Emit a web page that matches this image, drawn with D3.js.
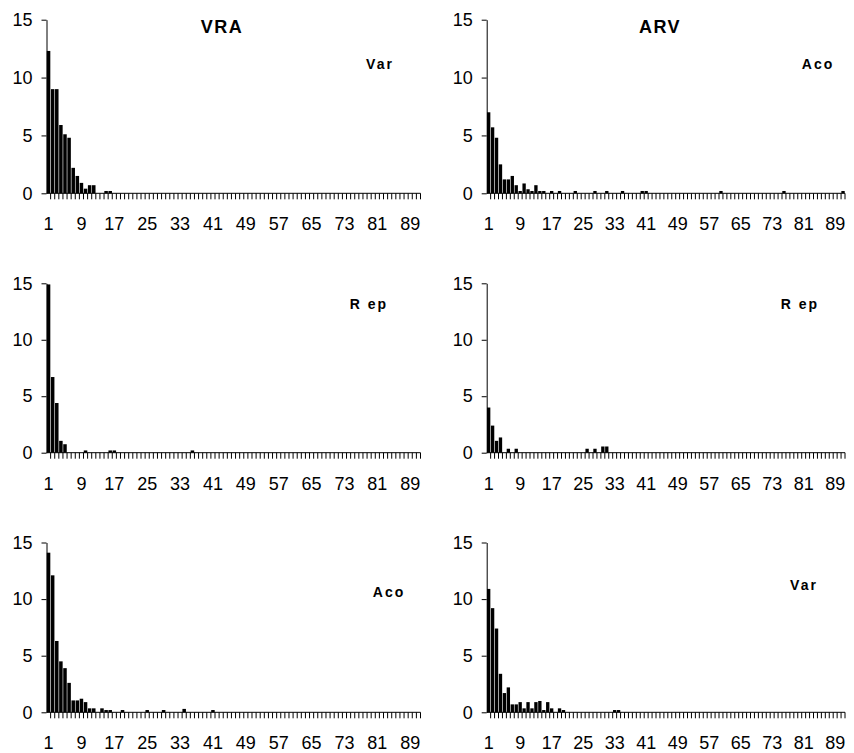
<!DOCTYPE html>
<html>
<head>
<meta charset="utf-8">
<script src="https://cdn.jsdelivr.net/npm/d3@7/dist/d3.min.js"></script>
<style>
  html, body { margin: 0; padding: 0; background: #fff; }
  svg { display: block; }
  text { font-family: "Liberation Sans", Arial, sans-serif; fill: #000; }
</style>
</head>
<body>
<script>
// Categories 1..91 along the x axis
const categories = [
   1, 2, 3, 4, 5, 6, 7, 8, 9,10,11,12,13,14,15,16,17,18,19,20,
  21,22,23,24,25,26,27,28,29,30,31,32,33,34,35,36,37,38,39,40,
  41,42,43,44,45,46,47,48,49,50,51,52,53,54,55,56,57,58,59,60,
  61,62,63,64,65,66,67,68,69,70,71,72,73,74,75,76,77,78,79,80,
  81,82,83,84,85,86,87,88,89,90,91
];
const xTickLabels = [1, 9, 17, 25, 33, 41, 49, 57, 65, 73, 81, 89];
const yTickValues = [0, 5, 10, 15];
const columnTitles = ["VRA", "ARV"];

// Frequencies per category
const vraVar = [
  12.3, 9.0, 9.0, 5.9, 5.1, 4.8, 2.2, 1.5, 0.9, 0.4,
  0.7, 0.7, 0, 0, 0.2, 0.2, 0, 0, 0, 0,
  0, 0, 0, 0, 0, 0, 0, 0, 0, 0,
  0, 0, 0, 0, 0, 0, 0, 0, 0, 0,
  0, 0, 0, 0, 0, 0, 0, 0, 0, 0,
  0, 0, 0, 0, 0, 0, 0, 0, 0, 0,
  0, 0, 0, 0, 0, 0, 0, 0, 0, 0,
  0, 0, 0, 0, 0, 0, 0, 0, 0, 0,
  0, 0, 0, 0, 0, 0, 0, 0, 0, 0,
  0
];
const arvAco = [
  7.0, 5.7, 4.8, 2.5, 1.2, 1.2, 1.5, 0.7, 0.2, 0.85,
  0.35, 0.2, 0.7, 0.2, 0.2, 0, 0.2, 0, 0.2, 0,
  0, 0, 0.2, 0, 0, 0, 0, 0.2, 0, 0,
  0.2, 0, 0, 0, 0.2, 0, 0, 0, 0, 0.2,
  0.2, 0, 0, 0, 0, 0, 0, 0, 0, 0,
  0, 0, 0, 0, 0, 0, 0, 0, 0, 0.2,
  0, 0, 0, 0, 0, 0, 0, 0, 0, 0,
  0, 0, 0, 0, 0, 0.2, 0, 0, 0, 0,
  0, 0, 0, 0, 0, 0, 0, 0, 0, 0,
  0.2
];
const vraRep = [
  14.9, 6.7, 4.4, 1.05, 0.75, 0, 0, 0, 0, 0.2,
  0, 0, 0, 0, 0, 0.2, 0.2, 0, 0, 0,
  0, 0, 0, 0, 0, 0, 0, 0, 0, 0,
  0, 0, 0, 0, 0, 0.2, 0, 0, 0, 0,
  0, 0, 0, 0, 0, 0, 0, 0, 0, 0,
  0, 0, 0, 0, 0, 0, 0, 0, 0, 0,
  0, 0, 0, 0, 0, 0, 0, 0, 0, 0,
  0, 0, 0, 0, 0, 0, 0, 0, 0, 0,
  0, 0, 0, 0, 0, 0, 0, 0, 0, 0,
  0
];
const arvRep = [
  4.0, 2.4, 1.05, 1.35, 0, 0.35, 0, 0.35, 0, 0,
  0, 0, 0, 0, 0, 0, 0, 0, 0, 0,
  0, 0, 0, 0, 0, 0.35, 0, 0.35, 0, 0.55,
  0.55, 0, 0, 0, 0, 0, 0, 0, 0, 0,
  0, 0, 0, 0, 0, 0, 0, 0, 0, 0,
  0, 0, 0, 0, 0, 0, 0, 0, 0, 0,
  0, 0, 0, 0, 0, 0, 0, 0, 0, 0,
  0, 0, 0, 0, 0, 0, 0, 0, 0, 0,
  0, 0, 0, 0, 0, 0, 0, 0, 0, 0,
  0
];
const vraAco = [
  14.1, 12.1, 6.3, 4.5, 3.9, 2.6, 1.05, 1.05, 1.2, 0.9,
  0.35, 0.35, 0, 0.35, 0.2, 0.2, 0, 0, 0.2, 0,
  0, 0, 0, 0, 0.2, 0, 0, 0, 0.2, 0,
  0, 0, 0, 0.3, 0, 0, 0, 0, 0, 0,
  0.2, 0, 0, 0, 0, 0, 0, 0, 0, 0,
  0, 0, 0, 0, 0, 0, 0, 0, 0, 0,
  0, 0, 0, 0, 0, 0, 0, 0, 0, 0,
  0, 0, 0, 0, 0, 0, 0, 0, 0, 0,
  0, 0, 0, 0, 0, 0, 0, 0, 0, 0,
  0
];
const arvVar = [
  10.9, 9.2, 7.4, 3.4, 1.7, 2.2, 0.7, 0.7, 0.9, 0.35,
  0.9, 0.35, 0.9, 1.0, 0.2, 0.9, 0.35, 0, 0.35, 0.2,
  0, 0, 0, 0, 0, 0, 0, 0, 0, 0,
  0, 0, 0.2, 0.2, 0, 0, 0, 0, 0, 0,
  0, 0, 0, 0, 0, 0, 0, 0, 0, 0,
  0, 0, 0, 0, 0, 0, 0, 0, 0, 0,
  0, 0, 0, 0, 0, 0, 0, 0, 0, 0,
  0, 0, 0, 0, 0, 0, 0, 0, 0, 0,
  0, 0, 0, 0, 0, 0, 0, 0, 0, 0,
  0
];

const W = 854, H = 753;
const svg = d3.select("body").append("svg")
  .attr("width", W).attr("height", H);

// Plot frames: two columns, three rows
const cols = [
  { x0: 46.5, x1: 420.5 },
  { x0: 486.7, x1: 845 }
];
const rows = [
  { top: 19.7, bottom: 193.3 },
  { top: 283.3, bottom: 452.7 },
  { top: 542.5, bottom: 712.3 }
];

const panels = [
  { col: 0, row: 0, values: vraVar, label: "Var", lx: 380, ly: 69 },
  { col: 1, row: 0, values: arvAco, label: "Aco", lx: 818, ly: 69 },
  { col: 0, row: 1, values: vraRep, label: "R ep", lx: 369, ly: 309 },
  { col: 1, row: 1, values: arvRep, label: "R ep", lx: 800, ly: 309 },
  { col: 0, row: 2, values: vraAco, label: "Aco", lx: 389, ly: 597 },
  { col: 1, row: 2, values: arvVar, label: "Var", lx: 804, ly: 590 }
];

panels.forEach(p => {
  const c = cols[p.col], r = rows[p.row];
  const x = d3.scaleBand().domain(categories).range([c.x0, c.x1]).paddingInner(0).paddingOuter(0);
  const y = d3.scaleLinear().domain([0, 15]).range([r.bottom, r.top]);
  const g = svg.append("g");
  const bw = x.bandwidth();

  // bars
  g.append("g").selectAll("rect")
    .data(categories.map((cat, i) => ({ cat, v: p.values[i] })).filter(d => d.v > 0))
    .join("rect")
    .attr("x", d => x(d.cat) + 0.3)
    .attr("width", bw - 0.6)
    .attr("y", d => y(d.v))
    .attr("height", d => y(0) - y(d.v))
    .attr("fill", "#000");

  // y axis
  const ya = g.append("g")
    .attr("transform", `translate(${c.x0},0)`)
    .call(d3.axisLeft(y).tickValues(yTickValues).tickSize(5).tickPadding(9).tickSizeOuter(0));
  ya.select(".domain").attr("stroke", "#000");
  ya.selectAll("text").attr("font-size", 18).attr("font-family", "Liberation Sans, Arial, sans-serif");

  // x axis baseline
  g.append("line")
    .attr("x1", c.x0).attr("x2", c.x1)
    .attr("y1", r.bottom).attr("y2", r.bottom)
    .attr("stroke", "#000").attr("stroke-width", 1);

  // category boundary ticks
  g.append("g").selectAll("line")
    .data(categories)
    .join("line")
    .attr("x1", d => x(d) + bw).attr("x2", d => x(d) + bw)
    .attr("y1", r.bottom).attr("y2", r.bottom + 6)
    .attr("stroke", "#000").attr("stroke-width", 1);

  // x tick labels
  g.append("g").selectAll("text")
    .data(xTickLabels)
    .join("text")
    .attr("x", d => x(d) + bw / 2)
    .attr("y", r.bottom + 37)
    .attr("text-anchor", "middle")
    .attr("font-size", 18)
    .text(d => d);

  // series label
  g.append("text")
    .attr("x", p.lx).attr("y", p.ly)
    .attr("text-anchor", "middle")
    .attr("font-size", 14)
    .attr("font-weight", "bold")
    .attr("font-family", "DejaVu Sans, sans-serif")
    .attr("letter-spacing", 2)
    .text(p.label);
});

// column titles
svg.selectAll("text.title")
  .data(columnTitles)
  .join("text")
  .attr("class", "title")
  .attr("x", (d, i) => [222, 660][i])
  .attr("y", 33)
  .attr("text-anchor", "middle")
  .attr("font-size", 18)
  .attr("font-weight", "bold")
  .attr("font-family", "DejaVu Sans, sans-serif")
  .attr("letter-spacing", 1.5)
  .text(d => d);
</script>
</body>
</html>
